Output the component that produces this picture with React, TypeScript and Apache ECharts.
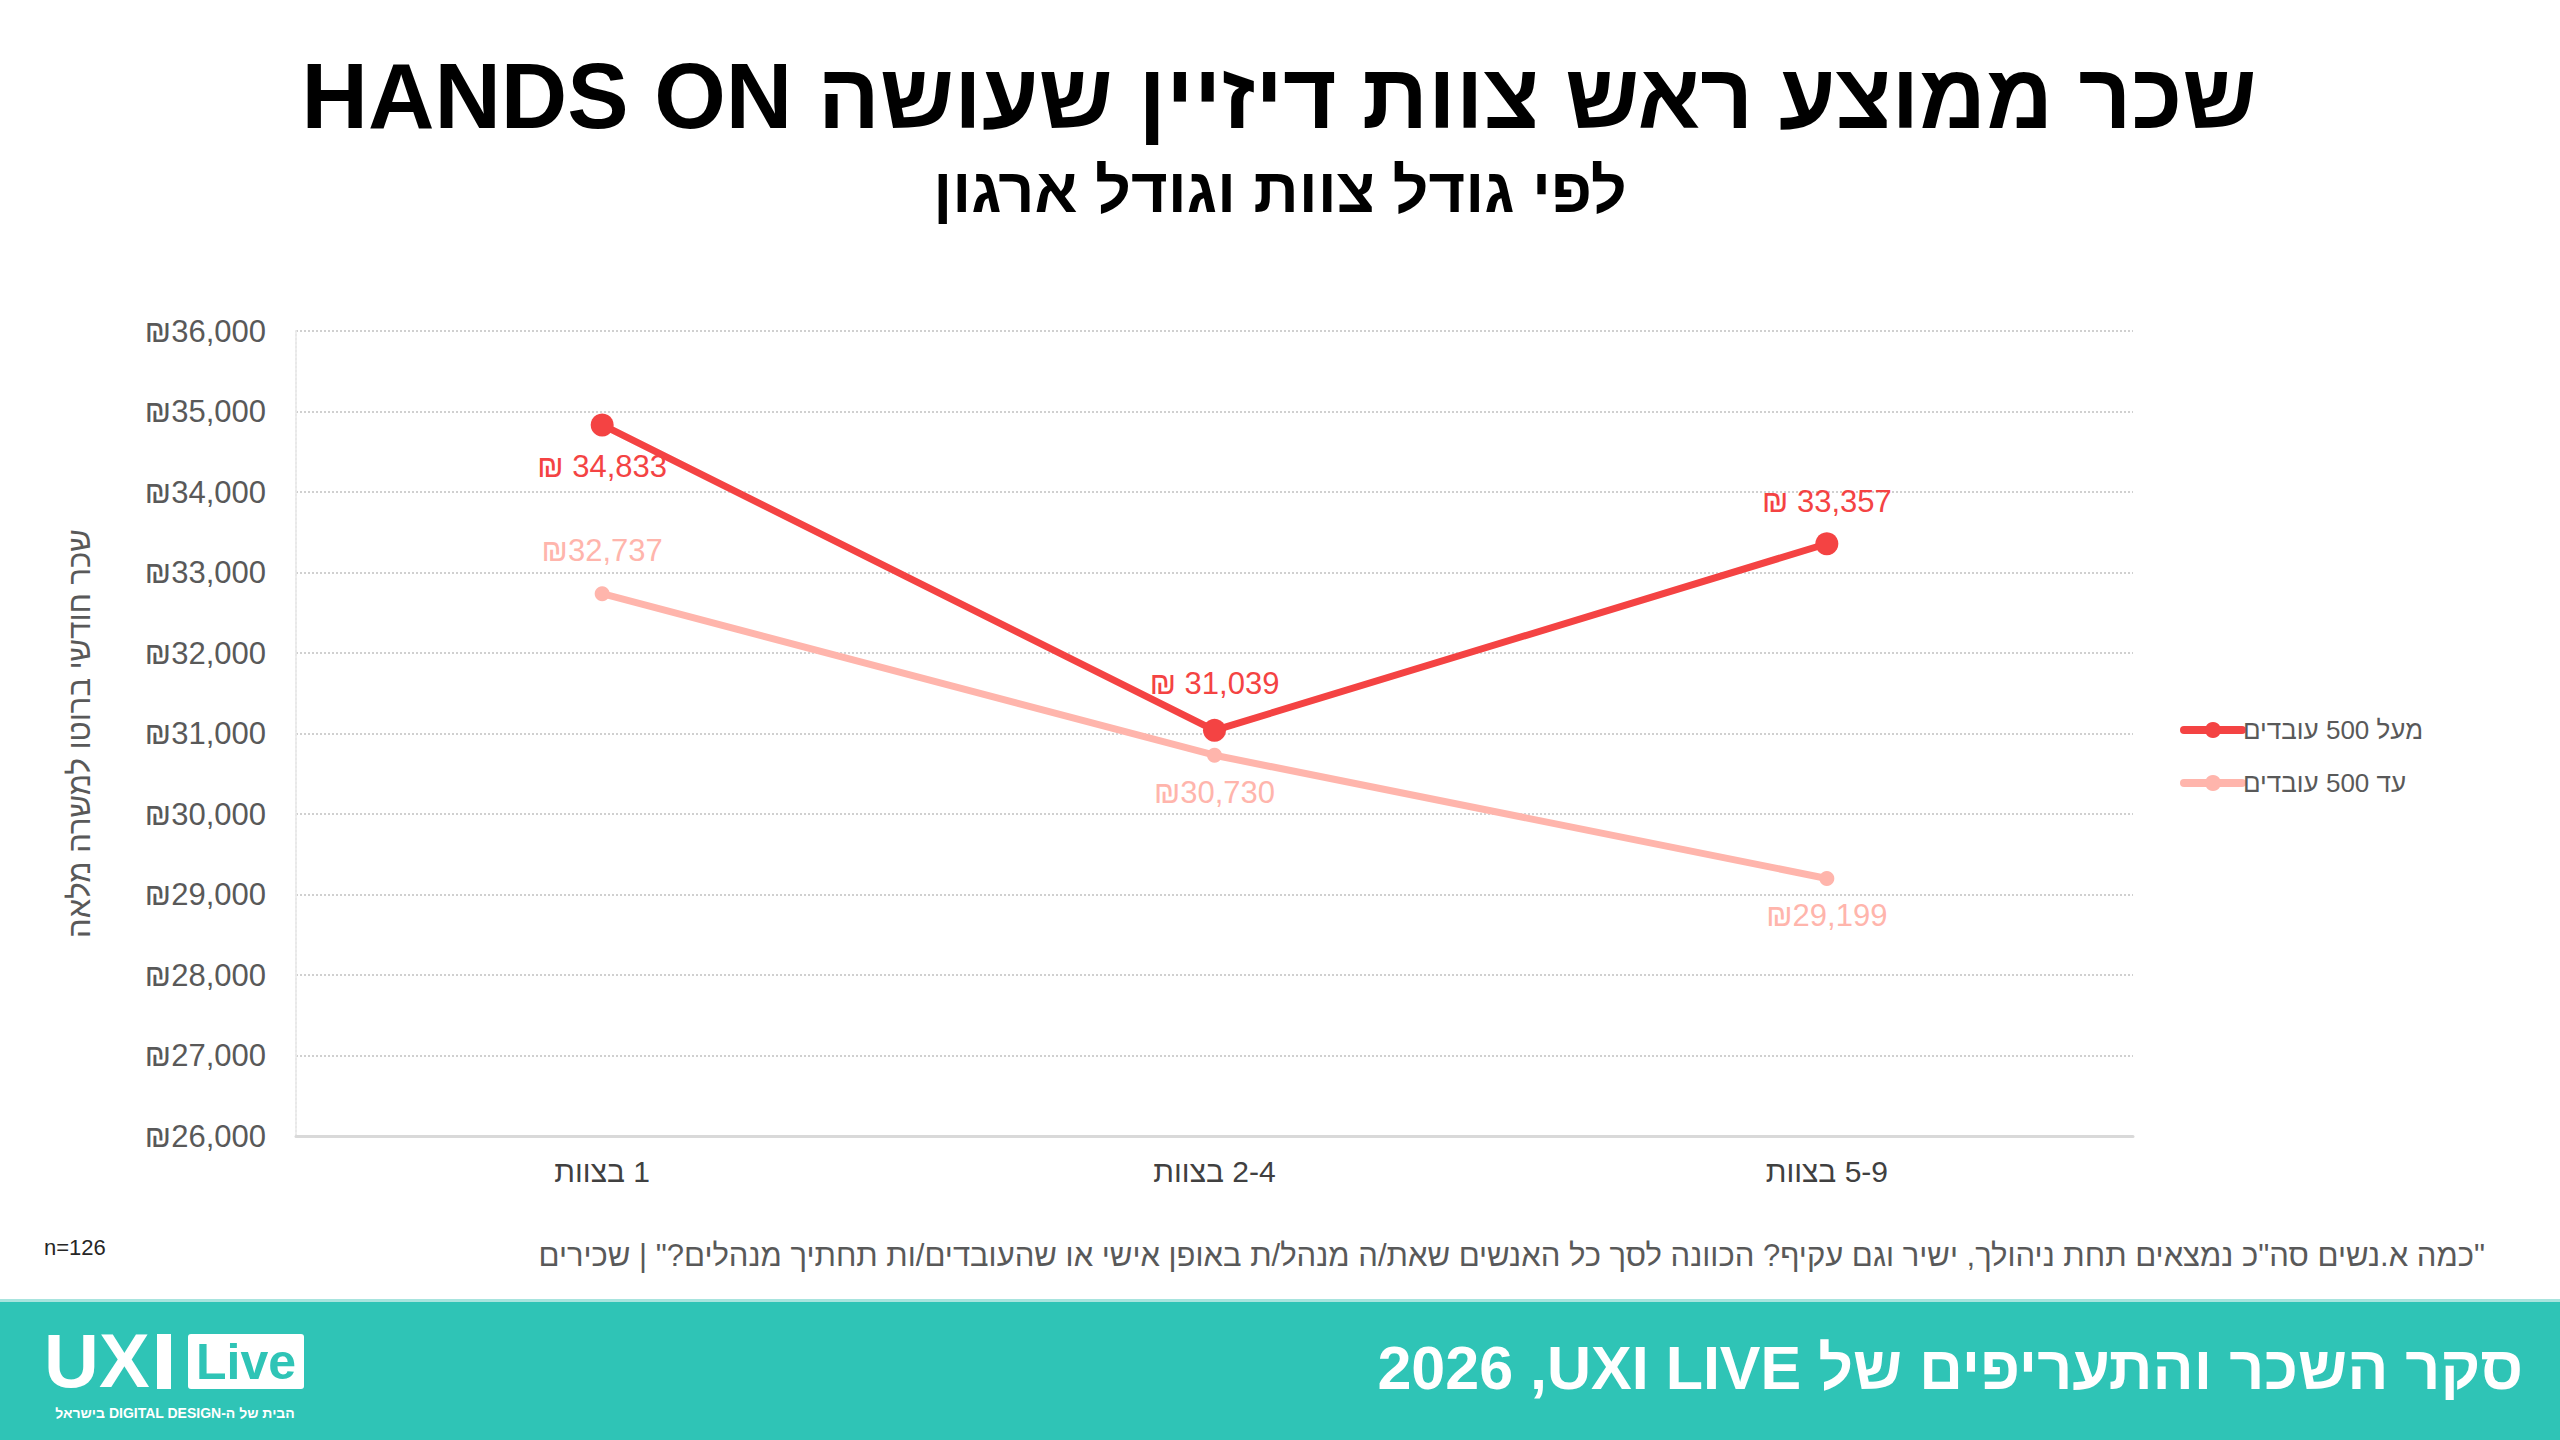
import React, { useEffect, useRef } from "react";
import * as echarts from "echarts";

const RLE = "\u202B";
const PDF = "\u202C";
const RLM = "\u200F";
const rtl = (s: string) => RLE + s + PDF;

const categories = ["1 בצוות", "2-4 בצוות", "5-9 בצוות"];
const seriesNames = ["מעל 500 עובדים", "עד 500 עובדים"];
const over500 = [34833, 31039, 33357];
const upTo500 = [32737, 30730, 29199];
const over500LabelPos = ["bottom", "top", "top"];
const upTo500LabelPos = ["top", "bottom", "bottom"];
const yMin = 26000;
const yMax = 36000;
const yStep = 1000;

const titleText = "שכר ממוצע ראש צוות דיזיין שעושה HANDS ON";
const subtitleText = "לפי גודל צוות וגודל ארגון";
const yAxisName = "שכר חודשי ברוטו למשרה מלאה";
const questionText =
  '"כמה א.נשים סה"כ נמצאים תחת ניהולך, ישיר וגם עקיף? הכוונה לסך כל האנשים שאת/ה מנהל/ת באופן אישי או שהעובדים/ות תחתיך מנהלים?" | שכירים';
const nText = "n=126";
const footerText = "סקר השכר והתעריפים של UXI LIVE" + RLM + ", 2026";
const logoTagline = "הבית של ה-DIGITAL DESIGN בישראל";

const RED = "#F44343";
const PINK = "#FFB5AC";
const TEAL = "#2FC4B6";
const FONT = '"Liberation Sans", "DejaVu Sans", sans-serif';

const fmt = (v: number) => v.toLocaleString("en-US");

export default function App() {
  const ref = useRef<HTMLDivElement>(null);
  useEffect(() => {
    document.body.style.margin = "0";
    if (!ref.current) return;
    const chart = echarts.init(ref.current, undefined, { renderer: "svg" });
    const option: any = {
      animation: false,
      backgroundColor: "#ffffff",
      textStyle: { fontFamily: FONT },
      grid: { left: 296, right: 427, top: 331, bottom: 304, containLabel: false },
      legend: {
        orient: "vertical",
        left: 2175,
        top: 712,
        itemWidth: 58,
        itemHeight: 20,
        itemGap: 27,
        data: seriesNames,
        lineStyle: { width: 8, cap: "round" },
        textStyle: { fontSize: 26, color: "#595959", fontFamily: FONT, padding: [0, 0, 0, -4] },
      },
      xAxis: {
        type: "category",
        data: categories,
        boundaryGap: true,
        axisLine: { show: true, lineStyle: { color: "#D9D9D9", width: 3 } },
        axisTick: { show: false },
        axisLabel: {
          fontSize: 30,
          color: "#404040",
          margin: 20,
          fontFamily: FONT,
          formatter: (v: string) => rtl(v),
        },
      },
      yAxis: {
        type: "value",
        min: yMin,
        max: yMax,
        interval: yStep,
        name: yAxisName,
        nameLocation: "middle",
        nameGap: 200,
        nameTextStyle: { fontSize: 31, color: "#595959", fontFamily: FONT, lineHeight: 34 },
        axisLine: { show: true, lineStyle: { type: "dotted", color: "#E8E8E8", width: 2 } },
        axisTick: { show: false },
        splitLine: { show: true, lineStyle: { type: "dotted", color: "#D0D0D0", width: 2 } },
        axisLabel: {
          fontSize: 31,
          color: "#595959",
          margin: 30,
          fontFamily: FONT,
          formatter: (v: number) => "₪" + fmt(v),
        },
      },
      series: [
        {
          name: seriesNames[0],
          type: "line",
          z: 3,
          data: over500.map((v, i) => ({
            value: v,
            label: { position: over500LabelPos[i], distance: i === 1 ? 20 : 15 },
          })),
          symbol: "circle",
          symbolSize: 23,
          lineStyle: { color: RED, width: 7, cap: "round" },
          itemStyle: { color: RED },
          label: {
            show: true,
            color: RED,
            fontSize: 31,
            fontFamily: FONT,
            formatter: (p: any) => "₪ " + fmt(p.value),
          },
        },
        {
          name: seriesNames[1],
          type: "line",
          z: 2,
          data: upTo500.map((v, i) => ({
            value: v,
            label: { position: upTo500LabelPos[i], distance: i === 0 ? 20 : 14 },
          })),
          symbol: "circle",
          symbolSize: 15,
          lineStyle: { color: PINK, width: 7, cap: "round" },
          itemStyle: { color: PINK },
          label: {
            show: true,
            color: PINK,
            fontSize: 31,
            fontFamily: FONT,
            formatter: (p: any) => "₪" + fmt(p.value),
          },
        },
      ],
      graphic: [
        {
          type: "text",
          x: 1279,
          y: 96,
          style: {
            text: rtl(titleText),
            align: "center",
            verticalAlign: "middle",
            fontSize: 92,
            fontWeight: "bold",
            fontFamily: FONT,
            fill: "#000000",
          },
        },
        {
          type: "text",
          x: 1280,
          y: 190,
          style: {
            text: rtl(subtitleText),
            align: "center",
            verticalAlign: "middle",
            fontSize: 63,
            fontWeight: "bold",
            fontFamily: FONT,
            fill: "#000000",
          },
        },
        {
          type: "text",
          x: 44,
          y: 1247,
          style: {
            text: nText,
            align: "left",
            verticalAlign: "middle",
            fontSize: 22,
            fontFamily: FONT,
            fill: "#262626",
          },
        },
        {
          type: "text",
          x: 2485,
          y: 1255,
          style: {
            text: rtl(questionText),
            align: "right",
            verticalAlign: "middle",
            fontSize: 31,
            fontFamily: FONT,
            fill: "#595959",
          },
        },
        {
          type: "rect",
          shape: { x: 0, y: 1299, width: 2560, height: 141 },
          style: { fill: "#A8E4DE" },
        },
        {
          type: "rect",
          shape: { x: 0, y: 1302, width: 2560, height: 138 },
          style: { fill: TEAL },
        },
        {
          type: "text",
          x: 2523,
          y: 1368,
          style: {
            text: rtl(footerText),
            align: "right",
            verticalAlign: "middle",
            fontSize: 61,
            fontWeight: "bold",
            fontFamily: FONT,
            fill: "#ffffff",
          },
        },
        {
          type: "text",
          x: 44,
          y: 1360,
          style: {
            text: "UX",
            align: "left",
            verticalAlign: "middle",
            fontSize: 76,
            lineHeight: 56,
            fontWeight: "bold",
            fontFamily: FONT,
            fill: "#ffffff",
          },
        },
        {
          type: "rect",
          shape: { x: 157, y: 1334, width: 14, height: 55 },
          style: { fill: "#ffffff" },
        },
        {
          type: "rect",
          shape: { x: 188, y: 1334, width: 116, height: 55, r: 3 },
          style: { fill: "#ffffff" },
        },
        {
          type: "text",
          x: 246,
          y: 1362,
          style: {
            text: "Live",
            align: "center",
            verticalAlign: "middle",
            fontSize: 50,
            lineHeight: 50,
            fontWeight: "bold",
            fontFamily: FONT,
            fill: TEAL,
          },
        },
        {
          type: "text",
          x: 175,
          y: 1413,
          style: {
            text: rtl(logoTagline),
            align: "center",
            verticalAlign: "middle",
            fontSize: 14,
            lineHeight: 15,
            fontWeight: "bold",
            fontFamily: FONT,
            fill: "#ffffff",
          },
        },
      ],
    };
    chart.setOption(option);
    return () => chart.dispose();
  }, []);
  return <div ref={ref} style={{ width: 2560, height: 1440 }} />;
}
